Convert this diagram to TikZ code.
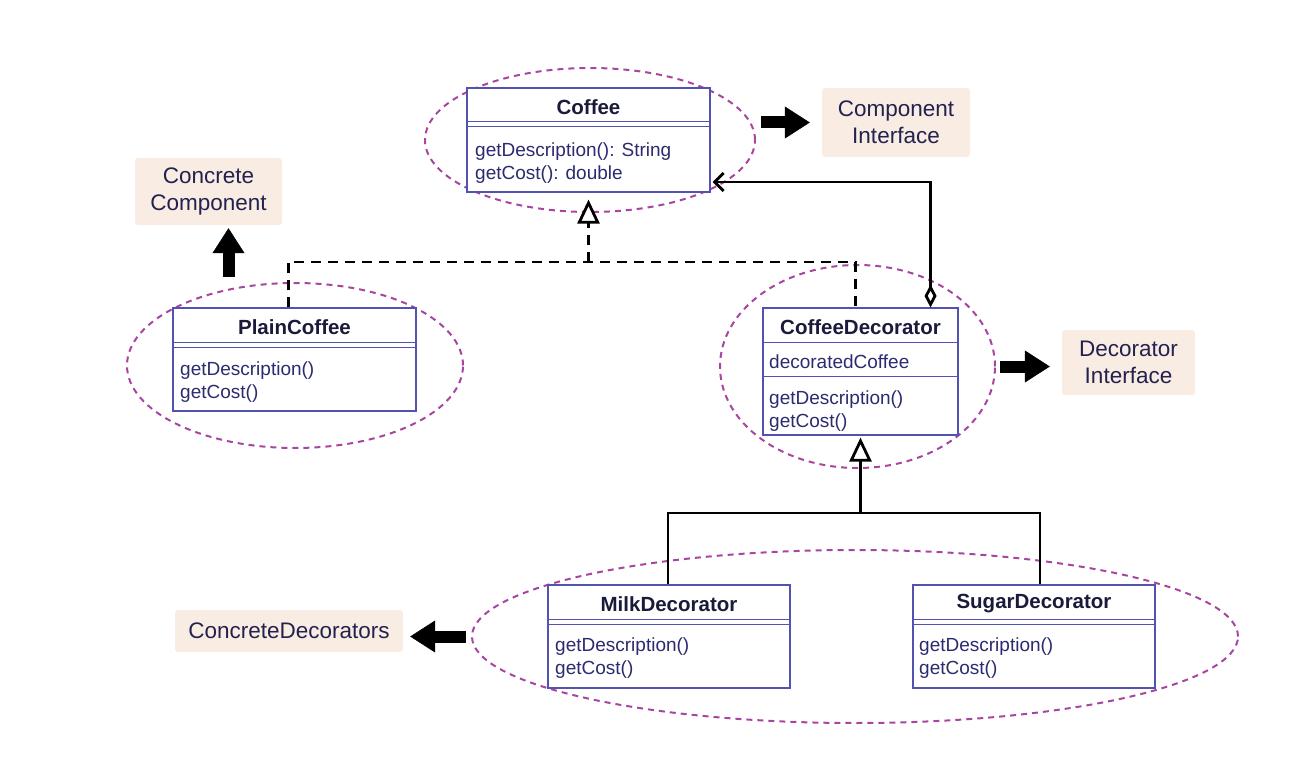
\documentclass[tikz,border=0pt]{standalone}
\usepackage{fontspec}
\setmainfont{Liberation Sans}
\usetikzlibrary{arrows.meta,shapes.geometric,calc}

\definecolor{boxblue}{HTML}{5252B0}
\definecolor{opsink}{HTML}{2B2B70}
\definecolor{titleink}{HTML}{1A1A3A}
\definecolor{ringpink}{HTML}{A845A0}
\definecolor{tagfill}{HTML}{F9ECE2}
\definecolor{tagink}{HTML}{222250}

\tikzset{
  classbox/.style={draw=boxblue, line width=1.1pt, fill=white, inner sep=0pt},
  classsep/.style={draw=boxblue, line width=1.1pt},
  classname/.style={font=\fontsize{20.5}{23}\selectfont\bfseries, text=titleink, inner sep=0pt},
  ops/.style={font=\fontsize{19}{23}\selectfont, text=opsink, align=left, anchor=west, inner sep=0pt},
  ring/.style={ellipse, draw=ringpink, line width=2pt, dash pattern=on 6pt off 5pt, inner sep=0pt},
  tag/.style={fill=tagfill, rounded corners=3pt, font=\fontsize{22.5}{27}\selectfont, text=tagink, align=center, inner sep=0pt},
  bigarrow/.style={line width=12pt, -{Triangle[length=25pt,width=32pt,line width=0.5pt]}},
  realize/.style={line width=2.8pt, dash pattern=on 10pt off 7pt},
  assoc/.style={line width=2.8pt}
}

\begin{document}
\begin{tikzpicture}[x=1pt, y=-1pt]
\useasboundingbox (0,0) rectangle (1302,757);

% dashed groups
\node[ring, minimum width=330pt, minimum height=144pt] (coffeeRing) at (590,140) {};
\node[ring, minimum width=336pt, minimum height=165pt] (plainRing) at (295,365.5) {};
\node[ring, minimum width=275pt, minimum height=203pt] (decoRing) at (857.5,366.5) {};
\node[ring, minimum width=766pt, minimum height=173pt] (concRing) at (855,636.5) {};

% Coffee
\node[classbox, minimum width=243pt, minimum height=104pt] (coffee) at (588.5,140) {};
\draw[classsep] ([yshift=-34pt]coffee.north west) -- ([yshift=-34pt]coffee.north east);
\draw[classsep] ([yshift=-39pt]coffee.north west) -- ([yshift=-39pt]coffee.north east);
\node[classname] (coffeeName) at (588.5,107) {Coffee};
\node[ops] (coffeeOps) at (475,163.5) {getDescription(): String\\getCost(): double};

% PlainCoffee
\node[classbox, minimum width=243pt, minimum height=103pt] (plain) at (294.5,359.5) {};
\draw[classsep] ([yshift=-35pt]plain.north west) -- ([yshift=-35pt]plain.north east);
\draw[classsep] ([yshift=-40pt]plain.north west) -- ([yshift=-40pt]plain.north east);
\node[classname] (plainName) at (294.5,327) {PlainCoffee};
\node[ops] (plainOps) at (180,382.5) {getDescription()\\getCost()};

% CoffeeDecorator
\node[classbox, minimum width=195pt, minimum height=127pt] (deco) at (860.5,371.5) {};
\draw[classsep] ([yshift=-35pt]deco.north west) -- ([yshift=-35pt]deco.north east);
\draw[classsep] ([yshift=-69pt]deco.north west) -- ([yshift=-69pt]deco.north east);
\node[classname] (decoName) at (860.5,327) {CoffeeDecorator};
\node[ops] (decoAttr) at (769,362) {decoratedCoffee};
\node[ops] (decoOps) at (769,411.5) {getDescription()\\getCost()};

% MilkDecorator
\node[classbox, minimum width=242pt, minimum height=103pt] (milk) at (669,636.5) {};
\draw[classsep] ([yshift=-35pt]milk.north west) -- ([yshift=-35pt]milk.north east);
\draw[classsep] ([yshift=-40pt]milk.north west) -- ([yshift=-40pt]milk.north east);
\node[classname] (milkName) at (669,604) {MilkDecorator};
\node[ops] (milkOps) at (555,658.5) {getDescription()\\getCost()};

% SugarDecorator
\node[classbox, minimum width=242pt, minimum height=103pt] (sugar) at (1034,636.5) {};
\draw[classsep] ([yshift=-35pt]sugar.north west) -- ([yshift=-35pt]sugar.north east);
\draw[classsep] ([yshift=-40pt]sugar.north west) -- ([yshift=-40pt]sugar.north east);
\node[classname] (sugarName) at (1034,604) {SugarDecorator};
\node[ops] (sugarOps) at (919,658.5) {getDescription()\\getCost()};

% role tags
\node[tag, minimum width=148pt, minimum height=69pt] (compTag) at (896,122.5) {Component\\Interface};
\node[tag, minimum width=147pt, minimum height=67pt] (ccTag) at (208.5,191.5) {Concrete\\Component};
\node[tag, minimum width=133pt, minimum height=65pt] (decoTag) at (1128.5,362.5) {Decorator\\Interface};
\node[tag, minimum width=228pt, minimum height=42pt] (cdTag) at (289,631) {ConcreteDecorators};

% realization
\coordinate (split) at (coffee.south |- 0,262);
\draw[realize] ([xshift=-6pt]plain.north) |- (split) -| ([xshift=-5pt]deco.north);
\draw[realize, -{Triangle[fill=white,length=24pt,width=22pt]}, shorten >=7pt] (split) -- (coffee.south);

% aggregation
\coordinate (aggEnd) at ([yshift=-42pt]coffee.east);
\draw[assoc, {Diamond[open,length=23pt,width=12pt]}-{Straight Barb[length=9pt,width=18pt]}, shorten >=2pt]
  ([xshift=-28pt]deco.north east) |- (aggEnd);

% generalization
\coordinate (fork) at (deco.south |- 0,513);
\draw[assoc] ([xshift=-1pt]milk.north) |- (fork) -| ([xshift=6pt]sugar.north);
\draw[assoc, -{Triangle[fill=white,length=24pt,width=22pt]}, shorten >=2pt] (fork) -- (deco.south);

% pointers to the tags
\draw[bigarrow, shorten <=5pt, shorten >=12pt] (compTag.west -| coffeeRing.east) -- (compTag.west);
\draw[bigarrow, shorten <=5pt, shorten >=3pt] ([xshift=20pt]ccTag.south |- plainRing.north) -- ([xshift=20pt]ccTag.south);
\draw[bigarrow, shorten <=4pt, shorten >=12pt] (decoRing.east) -- (decoRing.east -| decoTag.west);
\draw[bigarrow, shorten <=5pt, shorten >=7pt] (concRing.west) -- (concRing.west -| cdTag.east);

\end{tikzpicture}
\end{document}
